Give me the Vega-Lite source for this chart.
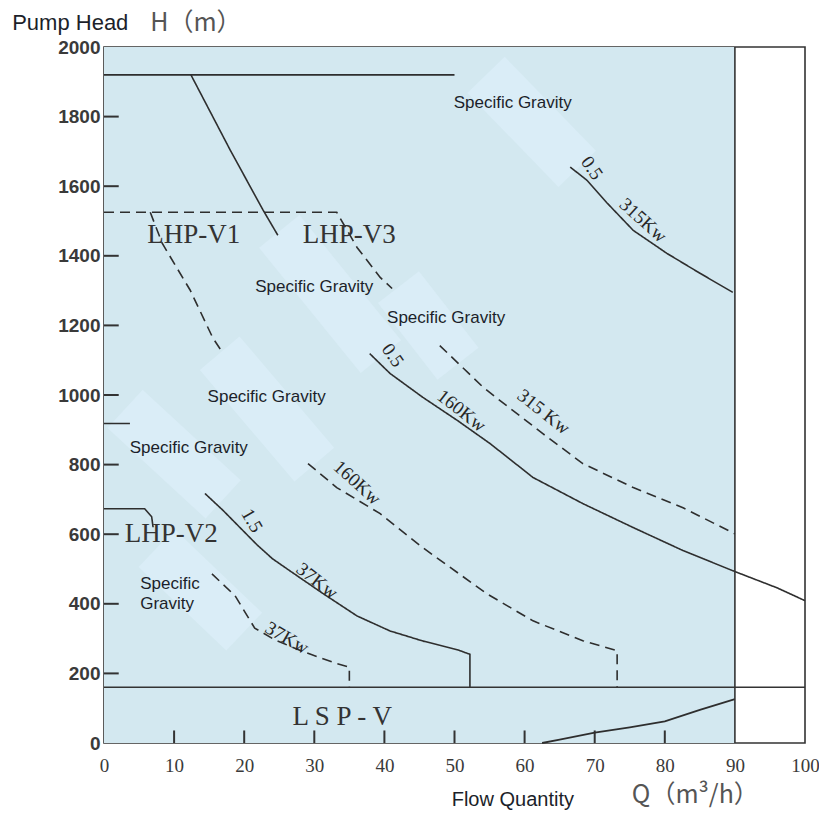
{
  "$schema": "https://vega.github.io/schema/vega-lite/v6.json",
  "width": 701,
  "height": 696,
  "autosize": {"type": "none"},
  "padding": {"left": 104, "top": 47, "right": 14, "bottom": 71},
  "background": "white",
  "config": {
    "view": {"stroke": "#333333", "strokeWidth": 1.6},
    "axis": {"grid": false, "domain": false, "title": null, "ticks": false, "labelColor": "#3a3a3a"}
  },
  "encoding": {
    "x": {"field": "x", "type": "quantitative", "scale": {"domain": [0, 100], "nice": false, "zero": false},
      "axis": {"values": [0, 10, 20, 30, 40, 50, 60, 70, 80, 90, 100], "format": "d", "labelPadding": 13, "labelFont": "Liberation Sans Narrow", "labelFontSize": 19, "labelFlush": false}},
    "y": {"field": "y", "type": "quantitative", "scale": {"domain": [0, 2000], "nice": false, "zero": false},
      "axis": {"values": [0, 200, 400, 600, 800, 1000, 1200, 1400, 1600, 1800, 2000], "format": "d", "labelPadding": 4, "labelFont": "Liberation Sans", "labelFontWeight": "bold", "labelFontSize": 19, "labelFlush": false}}
  },
  "layer": [
    {
      "data": {"values": [{"x": 0, "x2": 90, "y": 0, "y2": 2000}]},
      "mark": {"type": "rect", "fill": "#d3e8f0"},
      "encoding": {"x2": {"field": "x2"}, "y2": {"field": "y2"}}
    },
    {
      "data": {"values": [
        {"x": 54.5, "y": 1920, "x2": 67.5, "y2": 1650},
        {"x": 25.0, "y": 1470, "x2": 39.5, "y2": 1110},
        {"x": 42.0, "y": 1310, "x2": 50.5, "y2": 1090},
        {"x": 16.5, "y": 1120, "x2": 30.0, "y2": 800},
        {"x": 3.0, "y": 960, "x2": 17.0, "y2": 700},
        {"x": 7.5, "y": 560, "x2": 20.0, "y2": 320}
      ]},
      "mark": {"type": "rule", "stroke": "#daedf7", "strokeWidth": 52, "strokeCap": "butt", "clip": true},
      "encoding": {"x2": {"field": "x2"}, "y2": {"field": "y2"}}
    },
    {
      "data": {"values": [
        {"y": 200, "x": 0, "x2": 2.1}, {"y": 400, "x": 0, "x2": 2.1}, {"y": 600, "x": 0, "x2": 2.1}, {"y": 800, "x": 0, "x2": 2.1}, {"y": 1000, "x": 0, "x2": 2.1},
        {"y": 1200, "x": 0, "x2": 2.1}, {"y": 1400, "x": 0, "x2": 2.1}, {"y": 1600, "x": 0, "x2": 2.1}, {"y": 1800, "x": 0, "x2": 2.1}
      ]},
      "mark": {"type": "rule", "stroke": "#333333", "strokeWidth": 2},
      "encoding": {"x2": {"field": "x2"}}
    },
    {
      "data": {"values": [
        {"x": 10, "y": 0, "y2": 36}, {"x": 20, "y": 0, "y2": 36}, {"x": 30, "y": 0, "y2": 36}, {"x": 40, "y": 0, "y2": 36},
        {"x": 50, "y": 0, "y2": 36}, {"x": 60, "y": 0, "y2": 36}, {"x": 70, "y": 0, "y2": 36}, {"x": 80, "y": 0, "y2": 36}
      ]},
      "mark": {"type": "rule", "stroke": "#333333", "strokeWidth": 2},
      "encoding": {"y2": {"field": "y2"}}
    },
    {
      "data": {"values": [
        {"id": "a1", "sg": "0.5", "x": 0, "y": 1920}, {"id": "a1", "sg": "0.5", "x": 50, "y": 1920},
        {"id": "a2", "sg": "0.5", "x": 12.4, "y": 1920}, {"id": "a2", "sg": "0.5", "x": 18.0, "y": 1704}, {"id": "a2", "sg": "0.5", "x": 22.7, "y": 1531}, {"id": "a2", "sg": "0.5", "x": 24.8, "y": 1459},
        {"id": "a3", "sg": "0.5", "x": 66.5, "y": 1655}, {"id": "a3", "sg": "0.5", "x": 68.9, "y": 1617}, {"id": "a3", "sg": "0.5", "x": 71.8, "y": 1551}, {"id": "a3", "sg": "0.5", "x": 75.5, "y": 1473}, {"id": "a3", "sg": "0.5", "x": 80.3, "y": 1407}, {"id": "a3", "sg": "0.5", "x": 85.0, "y": 1350}, {"id": "a3", "sg": "0.5", "x": 89.7, "y": 1295},
        {"id": "b1", "sg": "1.0", "x": 0, "y": 1525}, {"id": "b1", "sg": "1.0", "x": 33.2, "y": 1525}, {"id": "b1", "sg": "1.0", "x": 36.1, "y": 1424}, {"id": "b1", "sg": "1.0", "x": 39.4, "y": 1338}, {"id": "b1", "sg": "1.0", "x": 41.1, "y": 1306},
        {"id": "b2", "sg": "1.0", "x": 47.9, "y": 1142}, {"id": "b2", "sg": "1.0", "x": 54.1, "y": 1022}, {"id": "b2", "sg": "1.0", "x": 56.5, "y": 984}, {"id": "b2", "sg": "1.0", "x": 62.6, "y": 889}, {"id": "b2", "sg": "1.0", "x": 68.3, "y": 803}, {"id": "b2", "sg": "1.0", "x": 75.5, "y": 734}, {"id": "b2", "sg": "1.0", "x": 82.6, "y": 676}, {"id": "b2", "sg": "1.0", "x": 90, "y": 601},
        {"id": "c1", "sg": "1.0", "x": 6.6, "y": 1525}, {"id": "c1", "sg": "1.0", "x": 8.3, "y": 1436}, {"id": "c1", "sg": "1.0", "x": 12.3, "y": 1301}, {"id": "c1", "sg": "1.0", "x": 15.5, "y": 1165}, {"id": "c1", "sg": "1.0", "x": 17.0, "y": 1119},
        {"id": "c2", "sg": "1.0", "x": 29.1, "y": 803}, {"id": "c2", "sg": "1.0", "x": 33.2, "y": 734}, {"id": "c2", "sg": "1.0", "x": 39.4, "y": 659}, {"id": "c2", "sg": "1.0", "x": 45.5, "y": 561}, {"id": "c2", "sg": "1.0", "x": 54.6, "y": 429}, {"id": "c2", "sg": "1.0", "x": 61.2, "y": 351}, {"id": "c2", "sg": "1.0", "x": 68.3, "y": 294}, {"id": "c2", "sg": "1.0", "x": 73.2, "y": 265}, {"id": "c2", "sg": "1.0", "x": 73.2, "y": 160},
        {"id": "d", "sg": "0.5", "x": 37.9, "y": 1119}, {"id": "d", "sg": "0.5", "x": 40.8, "y": 1062}, {"id": "d", "sg": "0.5", "x": 45.5, "y": 993}, {"id": "d", "sg": "0.5", "x": 50.4, "y": 927}, {"id": "d", "sg": "0.5", "x": 55.1, "y": 860}, {"id": "d", "sg": "0.5", "x": 61.2, "y": 763}, {"id": "d", "sg": "0.5", "x": 68.3, "y": 688}, {"id": "d", "sg": "0.5", "x": 75.5, "y": 619}, {"id": "d", "sg": "0.5", "x": 82.6, "y": 553}, {"id": "d", "sg": "0.5", "x": 89.7, "y": 495}, {"id": "d", "sg": "0.5", "x": 96.0, "y": 446}, {"id": "d", "sg": "0.5", "x": 100, "y": 409},
        {"id": "e1", "sg": "1.5", "x": 0, "y": 918}, {"id": "e1", "sg": "1.5", "x": 3.7, "y": 918},
        {"id": "e2", "sg": "1.5", "x": 14.4, "y": 717}, {"id": "e2", "sg": "1.5", "x": 17.0, "y": 668}, {"id": "e2", "sg": "1.5", "x": 21.8, "y": 570}, {"id": "e2", "sg": "1.5", "x": 24.0, "y": 530}, {"id": "e2", "sg": "1.5", "x": 26.5, "y": 495}, {"id": "e2", "sg": "1.5", "x": 31.2, "y": 430}, {"id": "e2", "sg": "1.5", "x": 36.1, "y": 365}, {"id": "e2", "sg": "1.5", "x": 40.8, "y": 322}, {"id": "e2", "sg": "1.5", "x": 45.5, "y": 293}, {"id": "e2", "sg": "1.5", "x": 50.4, "y": 268}, {"id": "e2", "sg": "1.5", "x": 52.2, "y": 255}, {"id": "e2", "sg": "1.5", "x": 52.2, "y": 160},
        {"id": "f1", "sg": "1.5", "x": 0, "y": 673}, {"id": "f1", "sg": "1.5", "x": 5.8, "y": 673}, {"id": "f1", "sg": "1.5", "x": 6.8, "y": 650}, {"id": "f1", "sg": "1.5", "x": 7.0, "y": 620},
        {"id": "f2", "sg": "1.0", "x": 15.4, "y": 486}, {"id": "f2", "sg": "1.0", "x": 18.7, "y": 423}, {"id": "f2", "sg": "1.0", "x": 21.5, "y": 330}, {"id": "f2", "sg": "1.0", "x": 24.5, "y": 295}, {"id": "f2", "sg": "1.0", "x": 28.5, "y": 262}, {"id": "f2", "sg": "1.0", "x": 33.2, "y": 228}, {"id": "f2", "sg": "1.0", "x": 35.0, "y": 218}, {"id": "f2", "sg": "1.0", "x": 35.0, "y": 160}
      ]},
      "mark": {"type": "line", "stroke": "#2e2e2e", "strokeWidth": 1.6},
      "encoding": {
        "detail": {"field": "id", "type": "nominal"},
        "strokeDash": {"field": "sg", "type": "nominal", "scale": {"domain": ["0.5", "1.0", "1.5"], "range": [[1, 0], [10, 6], [1, 0]]}, "legend": null}
      }
    },
    {
      "data": {"values": [
        {"x": 62.5, "y": 0}, {"x": 65, "y": 10}, {"x": 70, "y": 30}, {"x": 75, "y": 45}, {"x": 80, "y": 62}, {"x": 85, "y": 95}, {"x": 90, "y": 126}
      ]},
      "mark": {"type": "line", "stroke": "#2e2e2e", "strokeWidth": 1.8},
      "encoding": {}
    },
    {
      "data": {"values": [
        {"x": 0, "x2": 100, "y": 160, "y2": 160},
        {"x": 90, "x2": 90, "y": 0, "y2": 2000}
      ]},
      "mark": {"type": "rule", "stroke": "#333333", "strokeWidth": 1.6},
      "encoding": {"x2": {"field": "x2"}, "y2": {"field": "y2"}}
    },
    {
      "data": {"values": [
        {"label": "Specific Gravity", "x": 58.3, "y": 1839},
        {"label": "Specific Gravity", "x": 30.0, "y": 1309},
        {"label": "Specific Gravity", "x": 48.8, "y": 1220},
        {"label": "Specific Gravity", "x": 23.2, "y": 993},
        {"label": "Specific Gravity", "x": 12.1, "y": 849},
        {"label": "Specific", "x": 9.4, "y": 458},
        {"label": "Gravity", "x": 9.0, "y": 400}
      ]},
      "mark": {"type": "text", "font": "Liberation Sans", "fontSize": 17, "fill": "#1c1f2a", "align": "center", "baseline": "middle"},
      "encoding": {"text": {"field": "label"}}
    },
    {
      "data": {"values": [
        {"label": "LHP-V1", "x": 12.8, "y": 1459},
        {"label": "LHP-V3", "x": 35.0, "y": 1459},
        {"label": "LHP-V2", "x": 9.6, "y": 601},
        {"label": "L S P - V", "x": 34.0, "y": 75}
      ]},
      "mark": {"type": "text", "font": "Liberation Serif", "fontSize": 27, "fill": "#333333", "align": "center", "baseline": "middle"},
      "encoding": {"text": {"field": "label"}}
    },
    {
      "data": {"values": [{"label": "0.5", "x": 69.6, "y": 1652}, {"label": "0.5", "x": 41.2, "y": 1114}]},
      "mark": {"type": "text", "font": "Liberation Sans Narrow", "fontSize": 19, "fill": "#262626", "align": "center", "baseline": "middle", "angle": 55},
      "encoding": {"text": {"field": "label"}}
    },
    {
      "data": {"values": [{"label": "315Kw", "x": 76.9, "y": 1502}, {"label": "160Kw", "x": 36.1, "y": 748}]},
      "mark": {"type": "text", "font": "Liberation Sans Narrow", "fontSize": 19, "fill": "#262626", "align": "center", "baseline": "middle", "angle": 42},
      "encoding": {"text": {"field": "label"}}
    },
    {
      "data": {"values": [{"label": "160Kw", "x": 51.0, "y": 955}, {"label": "315 Kw", "x": 62.7, "y": 952}, {"label": "37Kw", "x": 30.4, "y": 466}]},
      "mark": {"type": "text", "font": "Liberation Sans Narrow", "fontSize": 19, "fill": "#262626", "align": "center", "baseline": "middle", "angle": 38},
      "encoding": {"text": {"field": "label"}}
    },
    {
      "data": {"values": [{"label": "37Kw", "x": 26.1, "y": 302}]},
      "mark": {"type": "text", "font": "Liberation Sans Narrow", "fontSize": 19, "fill": "#262626", "align": "center", "baseline": "middle", "angle": 30},
      "encoding": {"text": {"field": "label"}}
    },
    {
      "data": {"values": [{"label": "1.5", "x": 21.1, "y": 639}]},
      "mark": {"type": "text", "font": "Liberation Sans Narrow", "fontSize": 19, "fill": "#262626", "align": "center", "baseline": "middle", "angle": 60},
      "encoding": {"text": {"field": "label"}}
    },
    {
      "data": {"values": [{"label": "Pump Head", "x": -13.1, "y": 2069}]},
      "mark": {"type": "text", "font": "Liberation Sans", "fontSize": 22, "fill": "#1c1f2a", "align": "left", "baseline": "middle"},
      "encoding": {"text": {"field": "label"}}
    },
    {
      "data": {"values": [{"label": "Flow Quantity", "x": 49.6, "y": -164}]},
      "mark": {"type": "text", "font": "Liberation Sans", "fontSize": 20, "fill": "#1c1f2a", "align": "left", "baseline": "middle"},
      "encoding": {"text": {"field": "label"}}
    },
    {
      "data": {"values": [{"label": "H（m）", "x": 6.6, "y": 2069}, {"label": "Q（m³/h）", "x": 75.3, "y": -150}]},
      "mark": {"type": "text", "font": "Noto Sans CJK SC", "fontSize": 25, "fill": "#555555", "align": "left", "baseline": "middle"},
      "encoding": {"text": {"field": "label"}}
    }
  ]
}
